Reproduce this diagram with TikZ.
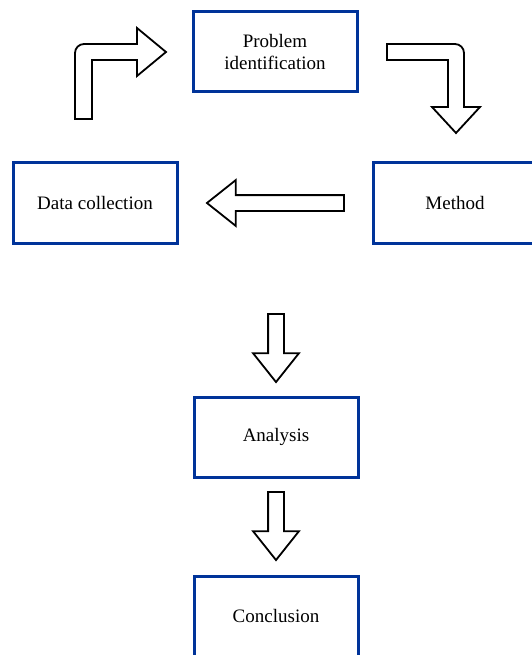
\documentclass[tikz,border=0pt]{standalone}
\usepackage{fontspec}
\setmainfont{Liberation Serif}
\usetikzlibrary{positioning,shapes.arrows,calc}
\definecolor{boxblue}{RGB}{0,51,153}

\begin{document}
\begin{tikzpicture}[
						x=1pt, y=-1pt,
						node distance=68pt and 13pt,
						box/.style={rectangle, draw=boxblue, line width=3pt,
							fill=white, minimum width=164pt, minimum height=80pt,
							align=center, font=\fontsize{19}{22}\selectfont},
						fatarrow/.style={single arrow, draw=black, fill=white,
							line width=1.8pt, inner sep=7pt, single arrow head extend=15pt,
							single arrow tip angle=77},
						bentarrow/.style={draw=black, fill=white, line width=1.8pt,
							line join=miter}
						]
						\useasboundingbox (0,0) rectangle (531,655);
						\node[box] (problem) at (275,52) {Problem\\identification};
						\node[box, below left=of problem] (data) {Data collection};
						\node[box, below right=of problem] (method) {Method};
						\node[box] (analysis) at (276,437) {Analysis};
						\node[box, below=96pt of analysis] (conclusion) {Conclusion};
						% block arrows
						\node[fatarrow, shape border rotate=180, minimum height=137pt,
							right=27pt of data] (toData) {};
						\node[fatarrow, shape border rotate=270, minimum height=68pt,
							above=12pt of analysis] (toAnalysis) {};
						\node[fatarrow, shape border rotate=270, minimum height=68pt,
							above=13pt of conclusion] (toConclusion) {};
						\draw[bentarrow] (75,119) [rounded corners=9pt] -- (75,44)
							[sharp corners] -- (137,44) -- (137,28) -- (166,52) -- (137,76)
							-- (137,60) -- (92,60) -- (92,119) -- cycle;
						\draw[bentarrow] (387,44) [rounded corners=9pt] -- (464,44)
							[sharp corners] -- (464,107) -- (480,107) -- (456,133) -- (432,107)
							-- (448,107) -- (448,60) -- (387,60) -- cycle;
					\end{tikzpicture}
\end{document}
